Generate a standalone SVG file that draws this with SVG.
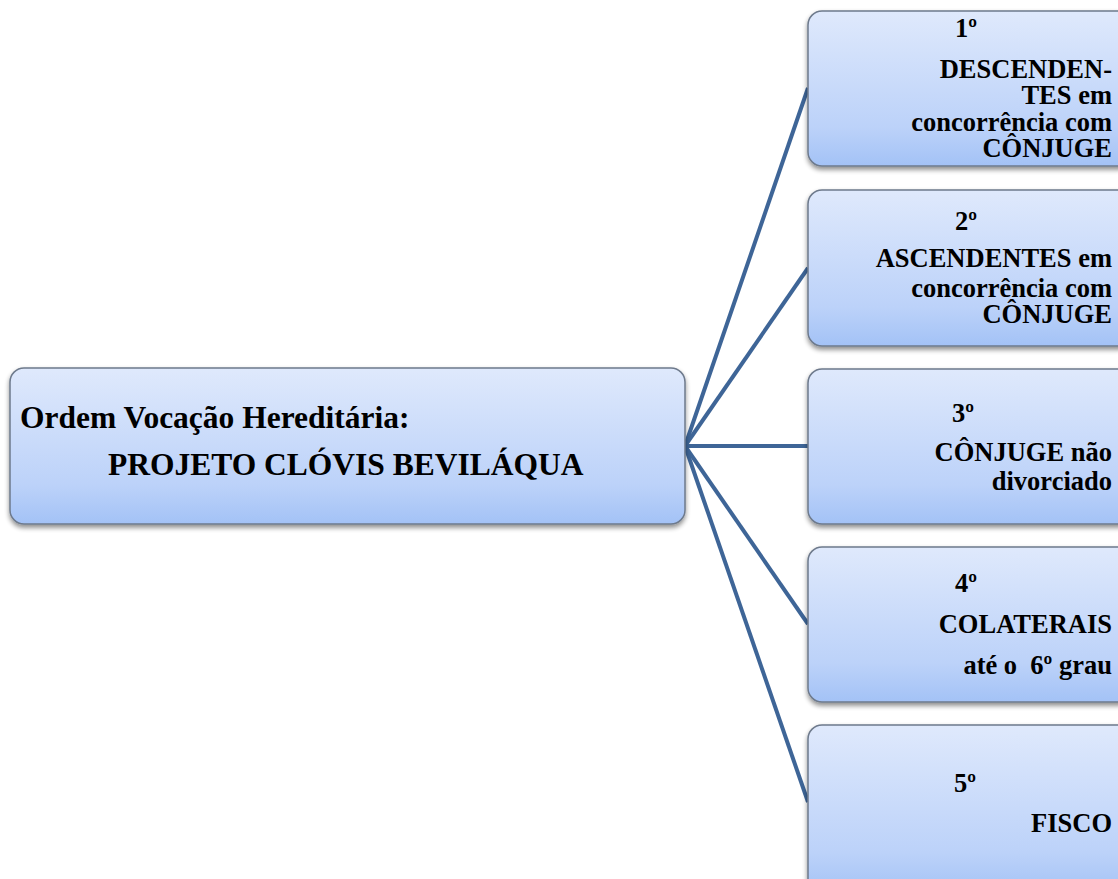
<svg xmlns="http://www.w3.org/2000/svg" width="1118" height="879" viewBox="0 0 1118 879">
<defs>
<linearGradient id="g" x1="0" y1="0" x2="0" y2="1">
<stop offset="0" stop-color="#dfe9fc"/>
<stop offset="0.75" stop-color="#bcd2f9"/>
<stop offset="1" stop-color="#a3c2f6"/>
</linearGradient>
<filter id="sh" x="-10%" y="-10%" width="120%" height="130%">
<feGaussianBlur in="SourceAlpha" stdDeviation="2.5"/>
<feOffset dx="0" dy="3" result="b"/>
<feComponentTransfer><feFuncA type="linear" slope="0.45"/></feComponentTransfer>
<feMerge><feMergeNode/><feMergeNode in="SourceGraphic"/></feMerge>
</filter>
</defs>
<style>
.box{fill:url(#g);stroke:#6e7a8c;stroke-width:1.5;filter:url(#sh)}
.t{font-family:"Liberation Serif",serif;font-weight:bold;font-size:26.5px;fill:#000}
.m{font-size:31.5px}
.r{text-anchor:end}
.c{stroke:#3e6597;stroke-width:4;fill:none}
</style>
<rect width="1118" height="879" fill="#fff"/>
<g id="connectors">
<line class="c" x1="685" y1="446" x2="808" y2="88"/>
<line class="c" x1="685" y1="446" x2="808" y2="268"/>
<line class="c" x1="685" y1="446" x2="808" y2="446"/>
<line class="c" x1="685" y1="446" x2="808" y2="624"/>
<line class="c" x1="685" y1="446" x2="808" y2="802"/>
</g>
<g id="root">
<rect class="box" x="10" y="368" width="675" height="156" rx="14"/>
<text class="t m" x="20" y="428">Ordem Vocação Hereditária:</text>
<text class="t m" x="108" y="475">PROJETO CLÓVIS BEVILÁQUA</text>
</g>
<g id="n1">
<rect class="box" x="808" y="11" width="325" height="155" rx="14"/>
<text class="t" x="966" y="37" text-anchor="middle">1º</text>
<text class="t r" x="1112" y="78">DESCENDEN-</text>
<text class="t r" x="1112" y="104">TES em</text>
<text class="t r" x="1112" y="131">concorrência com</text>
<text class="t r" x="1112" y="157">CÔNJUGE</text>
</g>
<g id="n2">
<rect class="box" x="808" y="190" width="325" height="156" rx="14"/>
<text class="t" x="966" y="230" text-anchor="middle">2º</text>
<text class="t r" x="1112" y="267">ASCENDENTES em</text>
<text class="t r" x="1112" y="297">concorrência com</text>
<text class="t r" x="1112" y="323">CÔNJUGE</text>
</g>
<g id="n3">
<rect class="box" x="808" y="369" width="325" height="155" rx="14"/>
<text class="t" x="963" y="422" text-anchor="middle">3º</text>
<text class="t r" x="1112" y="461">CÔNJUGE não</text>
<text class="t r" x="1112" y="490">divorciado</text>
</g>
<g id="n4">
<rect class="box" x="808" y="547" width="325" height="155" rx="14"/>
<text class="t" x="966" y="592" text-anchor="middle">4º</text>
<text class="t r" x="1112" y="633">COLATERAIS</text>
<text class="t r" x="1112" y="674" xml:space="preserve">até o  6º grau</text>
</g>
<g id="n5">
<rect class="box" x="808" y="725" width="325" height="170" rx="14"/>
<text class="t" x="965" y="792" text-anchor="middle">5º</text>
<text class="t r" x="1112" y="832">FISCO</text>
</g>
</svg>
